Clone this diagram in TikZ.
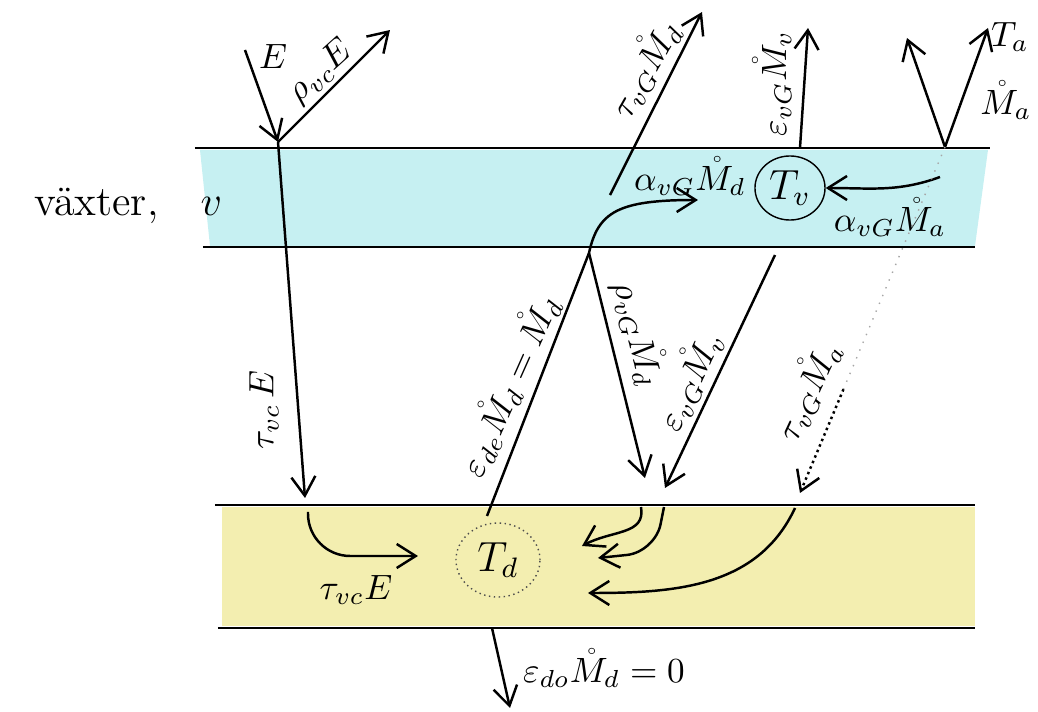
\documentclass[tikz,border=0pt]{standalone}
\usepackage{amsmath}
\usepackage{amssymb}
\usepackage{xcolor}
\usepackage{tikz}
\usetikzlibrary{arrows.meta,positioning,shapes.geometric,calc}

\definecolor{vegblue}{HTML}{C6F0F2}
\definecolor{soilyel}{HTML}{F3EEB0}
\newcommand{\Mr}[1]{\mathring{M}_{#1}}

\begin{document}
\begin{tikzpicture}[
    x=0.01cm, y=-0.01cm,
    >={Straight Barb[length=1.9mm,width=2.4mm]},
    fl/.style={->, line width=0.7pt},
    lbl/.style={font=\normalsize, inner sep=1pt},
    tmp/.style={ellipse, draw, inner sep=0pt, font=\large}
]
    \useasboundingbox (0,0) rectangle (1038,712);

    % layers
    \fill[vegblue] (200,150) -- (988,150) -- (975,246) -- (210,246) -- cycle;
    \draw[line width=0.8pt] (195,148) -- (990,148);
    \draw[line width=0.6pt] (203,247) -- (975,247);
    \fill[soilyel] (222,507) rectangle (975,626);
    \draw[line width=0.6pt] (215,505) -- (975,505);
    \draw[line width=0.6pt] (218,628) -- (975,628);

    \node[anchor=west, font=\large] (veg) at (22,206) {växter,\quad $v$};

    % temperatures
    \node[tmp, minimum width=0.70cm, minimum height=0.64cm] (Tv) at (790,188) {$T_v$};
    \node[tmp, densely dotted, draw=black!70, minimum width=0.84cm,
          minimum height=0.74cm] (Td) at (498,560) {$T_d$};

    % end points
    \coordinate (Ein)  at (245,50);
    \coordinate (hitv) at (278,142);
    \coordinate (rhoE) at (390,30);
    \coordinate (tauE) at (305,498);
    \coordinate (tE1)  at (308,512);
    \coordinate (tE2)  at (418,556);
    \coordinate (dUp)  at (487,516);
    \coordinate (kink) at (589,253);
    \coordinate (aMd)  at (698,200);
    \coordinate (tMd0) at (610,195);
    \coordinate (tMd1) at (702,12);
    \coordinate (rMd)  at (645,478);
    \coordinate (eMv0) at (775,255);
    \coordinate (eMv1) at (665,488);
    \coordinate (eMv2) at (800,148);
    \coordinate (eMv3) at (808,28);
    \coordinate (Va)   at (945,147);
    \coordinate (Vl)   at (907,38);
    \coordinate (Vr)   at (988,28);
    \coordinate (aMa)  at (940,177);
    \coordinate (tMa)  at (800,493);
    \coordinate (tMaM) at ($(Va)!0.7!(tMa)$);
    \coordinate (in1)  at (641,507);
    \coordinate (in1e) at (582,546);
    \coordinate (in2)  at (664,507);
    \coordinate (in2e) at (598,558);
    \coordinate (in3)  at (795,508);
    \coordinate (in3e) at (588,593);
    \coordinate (out0) at (492,628);
    \coordinate (out1) at (510,708);

    % short-wave
    \draw[fl] (Ein) -- (hitv);
    \draw[fl] (hitv) -- (rhoE);
    \draw[fl] (hitv) -- (tauE);
    \draw[fl, rounded corners=12] (tE1) |- (tE2);

    % long-wave from the ground
    \draw[fl] (dUp) -- (kink) .. controls (598,212) and (618,200) .. (aMd);
    \draw[fl] (tMd0) -- (tMd1);
    \draw[fl] (kink) -- (rMd);

    % long-wave from the vegetation and the air
    \draw[fl] (eMv0) -- (eMv1);
    \draw[fl] (eMv2) -- (eMv3);
    \draw[fl] (Va) -- (Vl);
    \draw[fl] (Va) -- (Vr);
    \draw[fl] (aMa) to[out=200, in=0] (Tv.east);
    \draw[dotted, black!35] (Va) -- (tMaM);
    \draw[fl, densely dotted] (tMaM) -- (tMa);

    % into the ground layer
    \draw[fl] (in1) .. controls (646,535) and (612,530) .. (in1e);
    \draw[fl, rounded corners=8] (in2) -- (655,552) -- (in2e);
    \draw[fl] (in3) to[out=-115, in=0] (in3e);
    \draw[fl] (out0) -- (out1);

    % labels
    \node[lbl] (lE)    at (273,56)  {$E$};
    \node[lbl, rotate=42] (lrE) at (321,72) {$\rho_{vc}E$};
    \node[lbl, rotate=90] (ltE) at (264,410) {$\tau_{vc}\,E$};
    \node[lbl] (ltE2)  at (356,590) {$\tau_{vc}E$};
    \node[lbl, rotate=66] (leMd) at (508,385) {$\varepsilon_{de}\Mr{d}=\Mr{d}$};
    \node[lbl, rotate=60] (ltMd) at (643,68) {$\tau_{vG}\Mr{d}$};
    \node[lbl, rotate=90] (leMv) at (772,84) {$\varepsilon_{vG}\Mr{v}$};
    \node[lbl] (lTa)   at (1010,37) {$T_a$};
    \node[lbl] (lMa)   at (1006,100) {$\Mr{a}$};
    \node[lbl] (laMd)  at (690,176) {$\alpha_{vG}\Mr{d}$};
    \node[lbl] (laMa)  at (890,217) {$\alpha_{vG}\Mr{a}$};
    \node[lbl, rotate=-76] (lrMd) at (640,333) {$\rho_{vG}\Mr{d}$};
    \node[lbl, rotate=65] (leMv2) at (688,380) {$\varepsilon_{vG}\Mr{v}$};
    \node[lbl, rotate=65] (ltMa) at (806,390) {$\tau_{vG}\Mr{a}$};
    \node[lbl] (leMd0) at (604,668) {$\varepsilon_{do}\Mr{d}=0$};
\end{tikzpicture}
\end{document}
